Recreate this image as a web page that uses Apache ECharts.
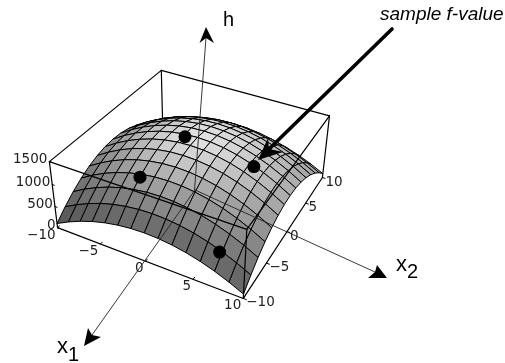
<!DOCTYPE html>
<html>
<head>
<meta charset="utf-8">
<style>html,body{margin:0;padding:0;background:#fff}#c{width:505px;height:363px}</style>
<script src="https://cdn.jsdelivr.net/npm/echarts@6/dist/echarts.min.js"></script>
</head>
<body>
<div id="c"></div>
<script>
// ---- data ----
const x1Grid = [-10,-8.571,-7.143,-5.714,-4.286,-2.857,-1.429,0,1.429,2.857,4.286,5.714,7.143,8.571,10];
const x2Grid = [-10,-8.571,-7.143,-5.714,-4.286,-2.857,-1.429,0,1.429,2.857,4.286,5.714,7.143,8.571,10];
// heights: one row per x1 value, one column per x2 value
const heights = [
 [100,299,467,605,712,789,835,850,835,789,712,605,467,299,100],
 [245,451,626,768,879,959,1006,1022,1006,959,879,768,626,451,245],
 [369,581,760,907,1021,1103,1152,1168,1152,1103,1021,907,760,581,369],
 [471,688,871,1021,1138,1221,1271,1288,1271,1221,1138,1021,871,688,471],
 [549,770,957,1109,1228,1313,1364,1381,1364,1313,1228,1109,957,770,549],
 [605,828,1017,1172,1292,1378,1430,1447,1430,1378,1292,1172,1017,828,605],
 [639,864,1054,1210,1331,1418,1470,1487,1470,1418,1331,1210,1054,864,639],
 [650,875,1066,1222,1344,1431,1483,1500,1483,1431,1344,1222,1066,875,650],
 [639,864,1054,1210,1331,1418,1470,1487,1470,1418,1331,1210,1054,864,639],
 [605,828,1017,1172,1292,1378,1430,1447,1430,1378,1292,1172,1017,828,605],
 [549,770,957,1109,1228,1313,1364,1381,1364,1313,1228,1109,957,770,549],
 [471,688,871,1021,1138,1221,1271,1288,1271,1221,1138,1021,871,688,471],
 [369,581,760,907,1021,1103,1152,1168,1152,1103,1021,907,760,581,369],
 [245,451,626,768,879,959,1006,1022,1006,959,879,768,626,451,245],
 [100,299,467,605,712,789,835,850,835,789,712,605,467,299,100]
];
const samples = [[-1.15,-0.4,1490],[-2.85,-6.0,1144],[6.15,-0.1,1253],[6.95,-8.7,580]];
const x1Ticks = [-10,-5,0,5,10];
const x2Ticks = [-10,-5,0,5,10];
const hTicks = [0,500,1000,1500];

// ---- camera: fitted to where the box corners sit in the picture ----
const cornerFit = [
 [-10,-10,0,58,228],[10,-10,0,243,299],[10,10,0,322,178],[-10,10,0,163,128],
 [-10,-10,1500,49,162],[10,-10,1500,247,228],[10,10,1500,330,116],[-10,10,1500,161,71]
];
function solve(A,b){
  const n=b.length, M=A.map((r,i)=>r.concat(b[i]));
  for(let c=0;c<n;c++){
    let p=c; for(let r=c+1;r<n;r++) if(Math.abs(M[r][c])>Math.abs(M[p][c])) p=r;
    [M[c],M[p]]=[M[p],M[c]];
    for(let r=0;r<n;r++){ if(r===c) continue; const f=M[r][c]/M[c][c];
      for(let k=c;k<=n;k++) M[r][k]-=f*M[c][k]; }
  }
  return M.map((r,i)=>r[n]/r[i]);
}
const cam=(function(){
  const rows=[],rhs=[];
  cornerFit.forEach(([a,b,h,px,py])=>{
    const u=a/10,v=b/10,w=h/1500,X=px/100,Y=py/100;
    rows.push([u,v,w,1,0,0,0,0,-X*u,-X*v,-X*w]);rhs.push(X);
    rows.push([0,0,0,0,u,v,w,1,-Y*u,-Y*v,-Y*w]);rhs.push(Y);
  });
  const N=Array.from({length:11},(_,i)=>Array.from({length:11},(_,j)=>rows.reduce((s,r)=>s+r[i]*r[j],0)));
  const B=Array.from({length:11},(_,i)=>rows.reduce((s,r,k)=>s+r[i]*rhs[k],0));
  return solve(N,B);
})();
function project(a,b,h){
  const u=a/10,v=b/10,w=h/1500,d=cam[8]*u+cam[9]*v+cam[10]*w+1;
  return [100*(cam[0]*u+cam[1]*v+cam[2]*w+cam[3])/d,100*(cam[4]*u+cam[5]*v+cam[6]*w+cam[7])/d];
}

// ---- box edges ----
const backEdges=[[[-10,10,0],[-10,10,1500]],[[-10,-10,1500],[-10,10,1500]],[[-10,10,1500],[10,10,1500]]];
const frontEdges=[[[-10,-10,0],[10,-10,0]],[[10,-10,0],[10,10,0]],[[-10,-10,0],[-10,-10,1500]],[[10,10,0],[10,10,1500]],
 [[-10,-10,1500],[10,-10,1500]],[[10,-10,1500],[10,10,1500]],[[10,-10,0],[10,-10,1500]]];

// ---- surface cells, painted from the far corner to the near one ----
const cells=[];
for(let i=0;i<x1Grid.length-1;i++) for(let j=x2Grid.length-2;j>=0;j--) cells.push([i,j]);
function shade(i,j){
  const h00=heights[i][j],h10=heights[i+1][j],h01=heights[i][j+1],h11=heights[i+1][j+1];
  const p=((h10+h11-h00-h01)/2/(x1Grid[i+1]-x1Grid[i]))/130;
  const q=((h01+h11-h00-h10)/2/(x2Grid[j+1]-x2Grid[j]))/160;
  const fq=q>0?1-.52*Math.pow(q,1.5):1-.14*Math.pow(-q,1.5);
  const fp=p>0?1-.4*Math.pow(p,1.5):1-.25*Math.pow(-p,1.5);
  const g=Math.round(226*fq*fp);
  return 'rgb('+g+','+g+','+g+')';
}

// ---- hand-drawn annotations over the plot ----
const axisLines=[[[206,38],[194.5,190]],[[195,190],[92,335]],[[195,190],[375,272]]];
const arrowHeads=[
 [[206,27],[199.5,43],[206,38],[214,43]],
 [[84,346],[88,328],[92,335],[101,337]],
 [[387,278],[368,278],[375,272],[377,265]],
 [[258,160],[268,138],[269,149],[283,152]]
];
const pointer=[[392,29],[266,152]];
const labels=[
 {t:'h',x:223,y:20,s:{fontFamily:'Liberation Sans',fontSize:20}},
 {t:'x',x:57,y:347,s:{fontFamily:'Liberation Sans',fontSize:22}},
 {t:'1',x:68,y:355,s:{fontFamily:'Liberation Sans',fontSize:20}},
 {t:'x',x:396,y:265,s:{fontFamily:'Liberation Sans',fontSize:22}},
 {t:'2',x:407,y:272,s:{fontFamily:'Liberation Sans',fontSize:20}},
 {t:'sample f-value',x:380,y:15,s:{fontFamily:'Liberation Sans',fontSize:19,fontStyle:'italic',fontWeight:'normal'}}
];

function lineEl(api,p,q,w,color){
  const a=api.coord(p),b=api.coord(q);
  return {type:'line',shape:{x1:a[0],y1:a[1],x2:b[0],y2:b[1]},style:{stroke:color,lineWidth:w,lineCap:'round'}};
}
function edgeSeries(name,edges,w,z){
  return {type:'custom',name,coordinateSystem:'cartesian2d',clip:false,silent:true,z,data:edges.map((e,i)=>[i]),
    renderItem:(p,api)=>{const e=edges[api.value(0)];return lineEl(api,project(...e[0]),project(...e[1]),w,'#000');}};
}
function tickSeries(name,items,z){
  // items: [from, to, text, offsetX, offsetY, align]
  return {type:'custom',name,coordinateSystem:'cartesian2d',clip:false,silent:true,z,data:items.map((e,i)=>[i]),
    renderItem:(p,api)=>{
      const it=items[api.value(0)],a=project(...it[0]),b=project(...it[1]),c=api.coord(a);
      return {type:'group',children:[lineEl(api,a,b,1,'#000'),
        {type:'text',x:c[0]+it[3],y:c[1]+it[4],style:{text:it[2],fontFamily:'DejaVu Sans',fontSize:13.5,fill:'#222',align:it[5],verticalAlign:'middle'}}]};
    }};
}
const fmt=v=>String(v).replace('-','\u2212');
const tickItems=[].concat(
  x1Ticks.map(t=>[[t,-10,0],[t,-9.7,0],fmt(t),-2,7.5,'right']),
  x2Ticks.map(t=>[[10,t,0],[10.3,t,0],fmt(t),3,4.5,'left']),
  hTicks.map(t=>[[-10,-10,t],[-9.75,-10,t],fmt(t),-2,-2,'right'])
);

const chart=echarts.init(document.getElementById('c'),null,{renderer:'canvas'});
chart.setOption({
  animation:false,
  backgroundColor:'#fff',
  grid:{left:0,right:0,top:0,bottom:0},
  xAxis:{type:'value',min:0,max:505,show:false},
  yAxis:{type:'value',min:0,max:363,inverse:true,show:false},
  series:[
    edgeSeries('back edges',backEdges,1.2,1),
    {type:'custom',name:'surface',coordinateSystem:'cartesian2d',clip:false,silent:true,z:2,data:cells,
     renderItem:(p,api)=>{
       const i=api.value(0),j=api.value(1);
       const pts=[[i,j],[i+1,j],[i+1,j+1],[i,j+1]].map(([a,b])=>api.coord(project(x1Grid[a],x2Grid[b],heights[a][b])));
       return {type:'polygon',shape:{points:pts},style:{fill:shade(i,j),stroke:'#000',lineWidth:1,lineJoin:'round'}};
     }},
    edgeSeries('front edges',frontEdges,1.2,3),
    tickSeries('ticks',tickItems,3),
    {type:'scatter',name:'samples',z:4,silent:true,symbol:'circle',symbolSize:13,itemStyle:{color:'#000',opacity:1},
     data:samples.map(s=>project(s[0],s[1],s[2]))},
    {type:'custom',name:'axes',coordinateSystem:'cartesian2d',clip:false,silent:true,z:5,data:axisLines.map((e,i)=>[i]),
     renderItem:(p,api)=>{const e=axisLines[api.value(0)];return lineEl(api,e[0],e[1],0.9,'#222');}},
    {type:'custom',name:'pointer',coordinateSystem:'cartesian2d',clip:false,silent:true,z:6,data:[[0]],
     renderItem:(p,api)=>lineEl(api,pointer[0],pointer[1],3.6,'#000')},
    {type:'custom',name:'arrowheads',coordinateSystem:'cartesian2d',clip:false,silent:true,z:6,data:arrowHeads.map((e,i)=>[i]),
     renderItem:(p,api)=>({type:'polygon',shape:{points:arrowHeads[api.value(0)].map(q=>api.coord(q))},style:{fill:'#000'}})},
    {type:'custom',name:'labels',coordinateSystem:'cartesian2d',clip:false,silent:true,z:7,data:labels.map((e,i)=>[i]),
     renderItem:(p,api)=>{const l=labels[api.value(0)],c=api.coord([l.x,l.y]);
       return {type:'text',x:c[0],y:c[1],style:Object.assign({text:l.t,fill:'#000',align:'left',verticalAlign:'middle'},l.s)};}}
  ]
});
</script>
</body>
</html>
